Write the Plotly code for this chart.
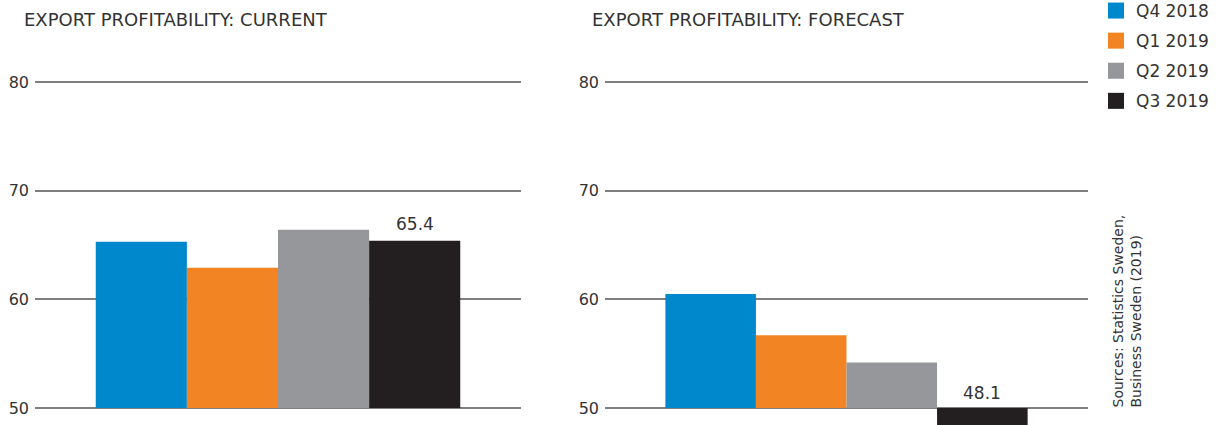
import plotly.graph_objects as go

series = ["Q4 2018", "Q1 2019", "Q2 2019", "Q3 2019"]
colors = ["#0088CC", "#F38423", "#96979B", "#231F20"]
current = [65.3, 62.9, 66.4, 65.4]
forecast = [60.5, 56.7, 54.2, 48.1]
titles = ["EXPORT PROFITABILITY: CURRENT", "EXPORT PROFITABILITY: FORECAST"]
yticks = [50, 60, 70, 80]
base_value = 50
source = "Sources: Statistics Sweden,<br>Business Sweden (2019)"

W, H = 1222, 425
FONT = "DejaVu Sans"
TXT = "#333333"
bargap = 0.25

fig = go.Figure()
for i, (name, col) in enumerate(zip(series, colors)):
    fig.add_trace(go.Bar(x=[0], y=[current[i] - base_value], base=base_value, name=name,
                         marker=dict(color=col, line=dict(width=0)), xaxis="x", yaxis="y",
                         legendgroup=name, showlegend=False, hoverinfo="skip"))
    fig.add_trace(go.Bar(x=[0], y=[forecast[i] - base_value], base=base_value, name=name,
                         marker=dict(color=col, line=dict(width=0)), xaxis="x2", yaxis="y2",
                         legendgroup=name, showlegend=False, hoverinfo="skip"))
# legend entries (larger square swatches, as in the original)
for name, col in zip(series, colors):
    fig.add_trace(go.Scatter(x=[None], y=[None], mode="markers", name=name, legendgroup=name,
                             marker=dict(symbol="square", size=18, color=col, line=dict(width=0)),
                             xaxis="x", yaxis="y", showlegend=True, hoverinfo="skip"))

yrange = [48.44, 87.54]
axis_common = dict(range=yrange, tickvals=yticks, showgrid=True, gridcolor="#7f7f7f", gridwidth=1.5,
                   zeroline=False, showline=False, ticks="", ticklabelstandoff=5,
                   tickfont=dict(family=FONT, size=16, color=TXT), fixedrange=True)
x_common = dict(range=[-0.5, 0.5], showticklabels=False, showgrid=False, zeroline=False,
                showline=False, ticks="", fixedrange=True)

d1 = [35 / W, 521 / W]
d2 = [605 / W, 1088 / W]

# x position of the last bar within the group
gw = 1 - bargap
last_x = -gw / 2 + gw / 4 * 3.5

annotations = [
    dict(text=titles[0], x=22 / W, y=1 - 7 / H, xref="paper", yref="paper", xanchor="left",
         yanchor="top", showarrow=False, font=dict(family=FONT, size=18, color=TXT)),
    dict(text=titles[1], x=590 / W, y=1 - 7 / H, xref="paper", yref="paper", xanchor="left",
         yanchor="top", showarrow=False, font=dict(family=FONT, size=18, color=TXT)),
    dict(text=f"{current[3]:.1f}", x=last_x, y=current[3], xref="x", yref="y", xanchor="center",
         yanchor="bottom", showarrow=False, yshift=5, font=dict(family=FONT, size=17, color=TXT)),
    dict(text=f"{forecast[3]:.1f}", x=last_x, y=base_value, xref="x2", yref="y2", xanchor="center",
         yanchor="bottom", showarrow=False, yshift=3, font=dict(family=FONT, size=17, color=TXT)),
    dict(text=source, x=1126 / W, y=(H - 410) / H, xref="paper", yref="paper", xanchor="center",
         yanchor="bottom", textangle=-90, align="left", showarrow=False,
         font=dict(family=FONT, size=14, color=TXT)),
]

fig.update_layout(
    width=W, height=H,
    margin=dict(l=0, r=0, t=0, b=0, autoexpand=False),
    paper_bgcolor="white", plot_bgcolor="white",
    barmode="group", bargap=bargap, bargroupgap=0,
    xaxis=dict(domain=d1, anchor="y", **x_common),
    yaxis=dict(anchor="x", **axis_common),
    xaxis2=dict(domain=d2, anchor="y2", **x_common),
    yaxis2=dict(anchor="x2", **axis_common),
    legend=dict(x=1096 / W, y=1 + 7 / H, xanchor="left", yanchor="top", traceorder="grouped",
                tracegroupgap=5, font=dict(family=FONT, size=17, color=TXT),
                bgcolor="rgba(0,0,0,0)", itemwidth=30),
    annotations=annotations,
    showlegend=True,
)

fig.write_html("out.html", post_script="document.body.style.margin='0px';",
               config={"displayModeBar": False})
